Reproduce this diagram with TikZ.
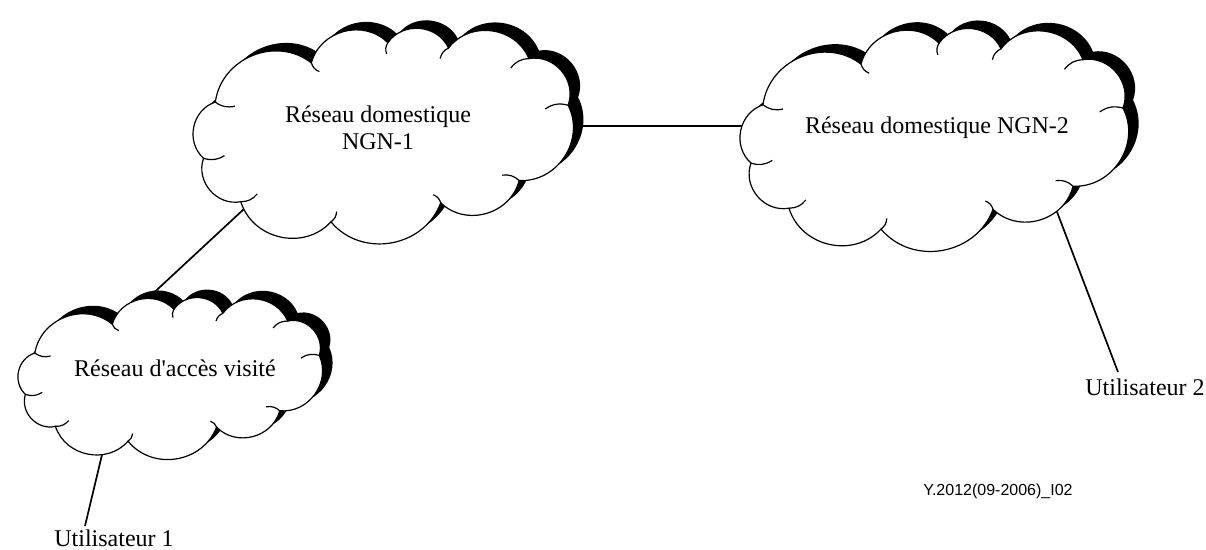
\documentclass[tikz,border=0pt]{standalone}
\usepackage{fontspec}
\setmainfont{Liberation Serif}[Ligatures=TeXOff]
\newfontfamily\figfont{Liberation Sans}

% outline of one cloud: centre #1,#2 and half sizes #3,#4 (pixels)
\newcommand{\cloudline}[4]{%
  ({#1-0.83*#3},{#2-0.32*#4}) to ({#1-0.34*#3},{#2-0.69*#4})
  to ({#1+0.05*#3},{#2-0.88*#4}) to ({#1+0.36*#3},{#2-0.83*#4})
  to ({#1+0.77*#3},{#2-0.73*#4}) to ({#1+0.97*#3},{#2-0.29*#4})
  to ({#1+0.72*#3},{#2+0.42*#4}) to ({#1+0.32*#3},{#2+0.63*#4})
  to ({#1-0.24*#3},{#2+0.81*#4}) to ({#1-0.70*#3},{#2+0.62*#4})
  to ({#1-0.89*#3},{#2+0.21*#4}) to ({#1-0.83*#3},{#2-0.32*#4}) -- cycle}

\newcommand{\netcloud}[4]{%
  \fill[shift={(10,-8)}, lobe] \cloudline{#1}{#2}{#3}{#4};
  \draw[fill=white, lobe] \cloudline{#1}{#2}{#3}{#4};
  \foreach \ux/\vy in {-0.83/0.32, -0.34/0.69, 0.05/0.88, 0.36/0.83, 0.77/0.73,
      0.97/0.29, 0.72/-0.42, 0.32/-0.63, -0.24/-0.81, -0.70/-0.62, -0.89/-0.21}
    \draw ({#1+\ux*#3},{#2-\vy*#4}) to[bend right=25]
      ({#1+0.88*\ux*#3},{#2-0.88*\vy*#4});
}

\begin{document}
\begin{tikzpicture}[x=0.5pt, y=-0.5pt, line width=0.6pt,
    font=\fontsize{12}{13.5}\selectfont,
    lobe/.style={bend left=60, looseness=1.1},
    link/.style={line width=0.85pt},
    lbl/.style={inner sep=0pt, align=center},
    code/.style={inner sep=0pt, font=\figfont\fontsize{8}{9}\selectfont}]
  \useasboundingbox (0,0) rectangle (1206,550);

  % connector ends
  \coordinate (n1e) at (570,126); \coordinate (n2w) at (745,126);
  \coordinate (n1s) at (244,209); \coordinate (vn) at (146,300);
  \coordinate (n2s) at (1054,204); \coordinate (u2n) at (1118,372);
  \coordinate (vs) at (106,438); \coordinate (u1n) at (85,526);

  \draw[link] (n1e) -- (n2w);
  \draw[link] (n1s) -- (vn);
  \draw[link] (n2s) -- (u2n);
  \draw[link] (vs) -- (u1n);

  % clouds
  \netcloud{378}{136}{196}{106}
  \netcloud{929}{140}{200}{110}
  \netcloud{166}{378}{158}{78}

  \node[lbl] (ngn1) at (378,128) {Réseau domestique\\NGN-1};
  \node[lbl] (ngn2) at (937,128) {Réseau domestique NGN-2};
  \node[lbl] (visit) at (175,368) {Réseau d'accès visité};
  \node[lbl] (u1) at (114,538) {Utilisateur 1};
  \node[lbl] (u2) at (1145,387) {Utilisateur 2};
  \node[code] (ref) at (998,491) {Y.2012(09-2006)\_I02};
\end{tikzpicture}
\end{document}
